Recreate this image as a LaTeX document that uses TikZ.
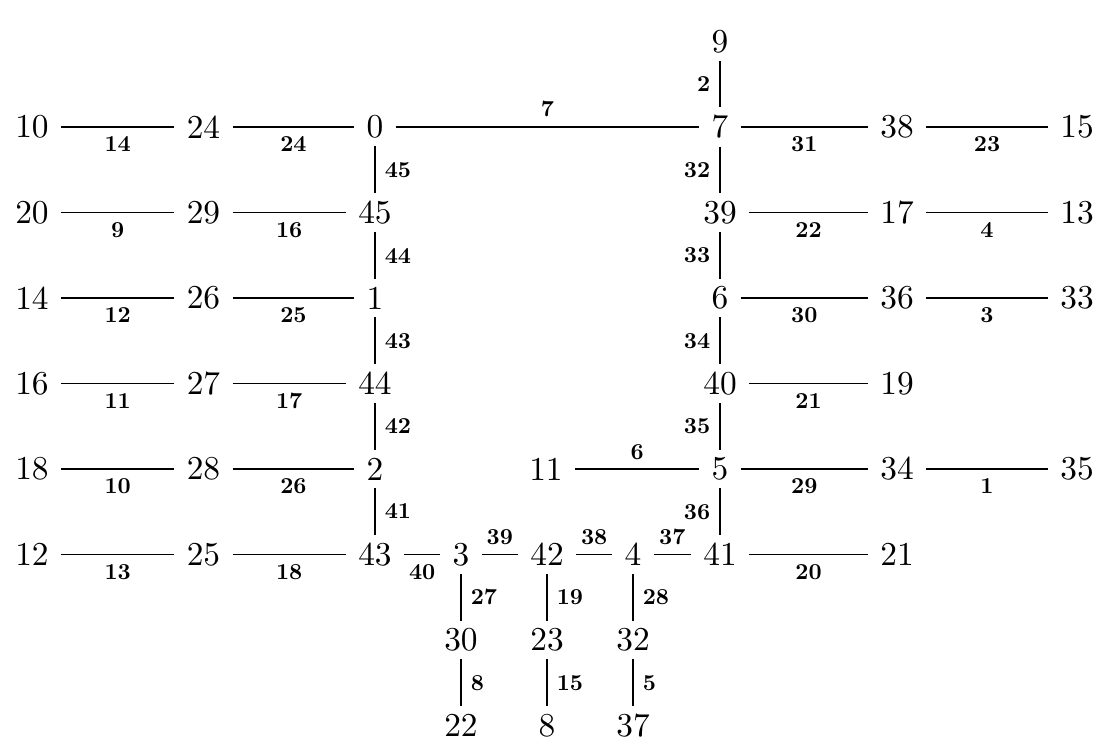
\documentclass[tikz,border=0pt]{standalone}
\usepackage{graphicx}
\usepackage{tikz}
\usetikzlibrary{positioning}
\newcommand{\vn}[1]{\scalebox{1.9}{#1}}
\newcommand{\en}[1]{\scalebox{1.3}{\bfseries #1}}

\begin{document}
\begin{tikzpicture}[
  on grid, node distance=1.71cm and 1.72cm, line width=1.1pt,
  vtx/.style={inner xsep=6.5pt, inner ysep=4pt},
  elab/.style={inner sep=5pt}
]
\useasboundingbox (-7.5,-12.32) rectangle (14.52,2.54);
% vertices, row by row
\node[vtx] (v0) at (0,0) {\vn{0}};
\node[vtx, left=3.43cm of v0] (v24) {\vn{24}};
\node[vtx, left=3.43cm of v24] (v10) {\vn{10}};
\node[vtx, right=6.9cm of v0] (v7) {\vn{7}};
\node[vtx, above=of v7] (v9) {\vn{9}};
\node[vtx, right=3.54cm of v7] (v38) {\vn{38}};
\node[vtx, right=3.6cm of v38] (v15) {\vn{15}};
\node[vtx, below=of v0] (v45) {\vn{45}};
\node[vtx, left=3.43cm of v45] (v29) {\vn{29}};
\node[vtx, left=3.43cm of v29] (v20) {\vn{20}};
\node[vtx, below=of v7] (v39) {\vn{39}};
\node[vtx, right=3.54cm of v39] (v17) {\vn{17}};
\node[vtx, right=3.6cm of v17] (v13) {\vn{13}};
\node[vtx, below=of v45] (v1) {\vn{1}};
\node[vtx, left=3.43cm of v1] (v26) {\vn{26}};
\node[vtx, left=3.43cm of v26] (v14) {\vn{14}};
\node[vtx, below=of v39] (v6) {\vn{6}};
\node[vtx, right=3.54cm of v6] (v36) {\vn{36}};
\node[vtx, right=3.6cm of v36] (v33) {\vn{33}};
\node[vtx, below=of v1] (v44) {\vn{44}};
\node[vtx, left=3.43cm of v44] (v27) {\vn{27}};
\node[vtx, left=3.43cm of v27] (v16) {\vn{16}};
\node[vtx, below=of v6] (v40) {\vn{40}};
\node[vtx, right=3.54cm of v40] (v19) {\vn{19}};
\node[vtx, below=of v44] (v2) {\vn{2}};
\node[vtx, left=3.43cm of v2] (v28) {\vn{28}};
\node[vtx, left=3.43cm of v28] (v18) {\vn{18}};
\node[vtx, below=of v40] (v5) {\vn{5}};
\node[vtx, left=3.48cm of v5] (v11) {\vn{11}};
\node[vtx, right=3.54cm of v5] (v34) {\vn{34}};
\node[vtx, right=3.6cm of v34] (v35) {\vn{35}};
\node[vtx, below=of v2] (v43) {\vn{43}};
\node[vtx, left=3.43cm of v43] (v25) {\vn{25}};
\node[vtx, left=3.43cm of v25] (v12) {\vn{12}};
\node[vtx, right=of v43] (v3) {\vn{3}};
\node[vtx, right=of v3] (v42) {\vn{42}};
\node[vtx, right=of v42] (v4) {\vn{4}};
\node[vtx, below=of v5] (v41) {\vn{41}};
\node[vtx, right=3.54cm of v41] (v21) {\vn{21}};
\node[vtx, below=of v3] (v30) {\vn{30}};
\node[vtx, below=of v42] (v23) {\vn{23}};
\node[vtx, below=of v4] (v32) {\vn{32}};
\node[vtx, below=of v30] (v22) {\vn{22}};
\node[vtx, below=of v23] (v8) {\vn{8}};
\node[vtx, below=of v32] (v37) {\vn{37}};
% edges with their labels
\draw (v10) -- (v24) node[midway, below, elab] {\en{14}};
\draw (v24) -- (v0) node[midway, below, elab] {\en{24}};
\draw (v0) -- (v7) node[midway, above, elab] {\en{7}};
\draw (v7) -- (v38) node[midway, below, elab] {\en{31}};
\draw (v38) -- (v15) node[midway, below, elab] {\en{23}};
\draw (v9) -- (v7) node[midway, left, elab] {\en{2}};
\draw (v0) -- (v45) node[midway, right, elab] {\en{45}};
\draw (v7) -- (v39) node[midway, left, elab] {\en{32}};
\draw (v20) -- (v29) node[midway, below, elab] {\en{9}};
\draw (v29) -- (v45) node[midway, below, elab] {\en{16}};
\draw (v39) -- (v17) node[midway, below, elab] {\en{22}};
\draw (v17) -- (v13) node[midway, below, elab] {\en{4}};
\draw (v45) -- (v1) node[midway, right, elab] {\en{44}};
\draw (v39) -- (v6) node[midway, left, elab] {\en{33}};
\draw (v14) -- (v26) node[midway, below, elab] {\en{12}};
\draw (v26) -- (v1) node[midway, below, elab] {\en{25}};
\draw (v6) -- (v36) node[midway, below, elab] {\en{30}};
\draw (v36) -- (v33) node[midway, below, elab] {\en{3}};
\draw (v1) -- (v44) node[midway, right, elab] {\en{43}};
\draw (v6) -- (v40) node[midway, left, elab] {\en{34}};
\draw (v16) -- (v27) node[midway, below, elab] {\en{11}};
\draw (v27) -- (v44) node[midway, below, elab] {\en{17}};
\draw (v40) -- (v19) node[midway, below, elab] {\en{21}};
\draw (v44) -- (v2) node[midway, right, elab] {\en{42}};
\draw (v40) -- (v5) node[midway, left, elab] {\en{35}};
\draw (v18) -- (v28) node[midway, below, elab] {\en{10}};
\draw (v28) -- (v2) node[midway, below, elab] {\en{26}};
\draw (v11) -- (v5) node[midway, above, elab] {\en{6}};
\draw (v5) -- (v34) node[midway, below, elab] {\en{29}};
\draw (v34) -- (v35) node[midway, below, elab] {\en{1}};
\draw (v2) -- (v43) node[midway, right, elab] {\en{41}};
\draw (v5) -- (v41) node[midway, left, elab] {\en{36}};
\draw (v12) -- (v25) node[midway, below, elab] {\en{13}};
\draw (v25) -- (v43) node[midway, below, elab] {\en{18}};
\draw (v43) -- (v3) node[midway, below, elab] {\en{40}};
\draw (v3) -- (v42) node[midway, above, elab] {\en{39}};
\draw (v42) -- (v4) node[midway, above, elab] {\en{38}};
\draw (v4) -- (v41) node[midway, above, elab] {\en{37}};
\draw (v41) -- (v21) node[midway, below, elab] {\en{20}};
\draw (v3) -- (v30) node[midway, right, elab] {\en{27}};
\draw (v42) -- (v23) node[midway, right, elab] {\en{19}};
\draw (v4) -- (v32) node[midway, right, elab] {\en{28}};
\draw (v30) -- (v22) node[midway, right, elab] {\en{8}};
\draw (v23) -- (v8) node[midway, right, elab] {\en{15}};
\draw (v32) -- (v37) node[midway, right, elab] {\en{5}};
\end{tikzpicture}
\end{document}
